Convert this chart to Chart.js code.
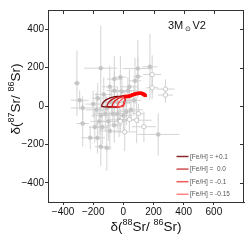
<!DOCTYPE html>
<html><head><meta charset="utf-8">
<script src="https://cdn.jsdelivr.net/npm/chart.js@4"></script>
<style>html,body{margin:0;padding:0;background:#fff}canvas{display:block}</style>
</head><body>
<canvas id="c" width="249" height="241"></canvas>
<script>
// ---- tick labels ----
const xTicks = [-400, -200, 0, 200, 400, 600];
const yTicks = [-400, -200, 0, 200, 400];

// ---- grey measurements (filled) ----
const filledX    = [-308,-150,176,96,77,96,231,-290,-270,-270,-220,-172,-150,-110,-29,-60,-10,-80,-120,-150,-180,-100,-60,-40,20,50,70,-200,-130,-90,40,-20,-60,30,-170,-140,-90,-40,10,-160,-110,-70,0,-190];
const filledY    = [119,197,204,195,131,154,-148,30,-10,-91,-166,-166,-212,-218,-72,80,75,20,-40,-50,-20,-80,-100,-40,-30,-20,30,10,60,100,100,150,140,80,40,-110,-130,20,20,-80,-10,-40,-50,-110];
const filledXErr = [20,110,50,100,40,30,140,60,80,40,60,50,40,30,60,50,70,60,80,60,70,60,50,70,60,80,50,50,60,50,60,40,50,60,40,50,60,60,50,60,70,50,60,40];
const filledYErr = [170,220,170,150,120,100,110,50,60,120,60,80,100,120,90,100,80,70,90,80,90,100,90,80,70,60,80,70,90,110,90,110,120,70,80,90,100,80,60,70,60,70,80,80];

// ---- grey measurements (open) ----
const openX    = [191,191,279,279,9,88,136,40,100,-20];
const openY    = [164,95,88,57,-135,-74,-108,-70,-40,-80];
const openXErr = [60,40,60,50,80,100,80,50,40,40];
const openYErr = [100,60,50,40,100,120,80,60,50,60];

// ---- model loops, one per metallicity ----
const loopP01 = [[-145,-3],[-140,10],[-130,22],[-115,32],[-95,40],[-70,46],[-40,50],[-10,52],[15,53],[10,35],[5,15],[-5,0],[-30,-4],[-70,-5],[-110,-5],[-145,-3]];
const loopP00 = [[-110,-3],[-104,10],[-94,22],[-80,32],[-62,40],[-40,46],[-15,50],[15,53],[10,35],[5,15],[-5,0],[-30,-4],[-70,-5],[-110,-3]];
const loopM01 = [[-75,-3],[-70,10],[-61,22],[-48,32],[-32,40],[-12,46],[15,53],[10,35],[5,15],[-5,0],[-30,-4],[-75,-3]];
const loopM015 = [[-40,-3],[-35,10],[-27,22],[-15,32],[0,42],[15,53],[10,35],[5,15],[0,-1],[-20,-3],[-40,-3]];
// ---- thick model track ----
const trackX = [15,30,45,60,75,90,105,118,130,138,145];
const trackY = [50,50,53,58,62,65,66,66,63,59,55];

const legendLabels = ['[Fe/H] = +0.1', '[Fe/H] =  0.0', '[Fe/H] = -0.1', '[Fe/H] = -0.15'];
const loopColors = ['#7a0a0a', '#b81414', '#e01e1e', '#ff4a4a'];
const legendColors = ['#8a2a2a', '#d05050', '#ea5a5a', '#ff8080'];

function pts(a){ return a.map(p => ({x:p[0], y:p[1]})); }
function hBars(X,Y,E){ const o=[]; X.forEach((x,i)=>{o.push({x:x-E[i],y:Y[i]},{x:x+E[i],y:Y[i]},{x:x,y:null});}); return o; }
function vBars(X,Y,E){ const o=[]; X.forEach((x,i)=>{o.push({x:x,y:Y[i]-E[i]},{x:x,y:Y[i]+E[i]},{x:x,y:null});}); return o; }

const errStyle = {showLine:true, spanGaps:false, pointRadius:0, borderColor:'rgba(205,205,205,0.85)', borderWidth:1, order:9};

const datasets = [
  Object.assign({data: hBars(filledX,filledY,filledXErr)}, errStyle),
  Object.assign({data: vBars(filledX,filledY,filledYErr)}, errStyle),
  Object.assign({data: hBars(openX,openY,openXErr)}, errStyle),
  Object.assign({data: vBars(openX,openY,openYErr)}, errStyle),
  {data: filledX.map((x,i)=>({x:x,y:filledY[i]})), pointRadius:2, pointBackgroundColor:'#c4c4c4', pointBorderColor:'#c4c4c4', pointBorderWidth:0.5, order:7},
  {data: openX.map((x,i)=>({x:x,y:openY[i]})), pointRadius:2.2, pointBackgroundColor:'#ffffff', pointBorderColor:'#bdbdbd', pointBorderWidth:0.8, order:6},
  {data: pts(loopP01), showLine:true, pointRadius:0, borderColor:loopColors[0], borderWidth:1.3, tension:0.3, order:5},
  {data: pts(loopP00), showLine:true, pointRadius:0, borderColor:loopColors[1], borderWidth:1.3, tension:0.3, order:4},
  {data: pts(loopM01), showLine:true, pointRadius:0, borderColor:loopColors[2], borderWidth:1.3, tension:0.3, order:3},
  {data: pts(loopM015), showLine:true, pointRadius:0, borderColor:loopColors[3], borderWidth:1.3, tension:0.3, order:2},
  {data: trackX.map((x,i)=>({x:x,y:trackY[i]})), showLine:true, borderColor:'#ff0000', borderWidth:3.5, tension:0.3, pointStyle:'rect', pointRadius:2.3, pointBackgroundColor:'#ff0000', pointBorderColor:'#ff0000', pointBorderWidth:0, order:1}
];

function drawSup(ctx, parts, x, y, size, align){
  const big = size + 'px "Liberation Sans", Arial, sans-serif';
  const small = Math.round(size*0.68) + 'px "Liberation Sans", Arial, sans-serif';
  let w = 0;
  parts.forEach(p => { ctx.font = p.sup ? small : big; w += ctx.measureText(p.t).width; });
  let cx = align === 'center' ? x - w/2 : x;
  ctx.textAlign = 'left'; ctx.textBaseline = 'alphabetic';
  parts.forEach(p => {
    ctx.font = p.sup ? small : big;
    ctx.fillText(p.t, cx, p.sup ? y - size*0.42 : y);
    cx += ctx.measureText(p.t).width;
  });
}

const decor = {
  id: 'decor',
  afterDraw(chart){
    const ctx = chart.ctx, a = chart.chartArea, xs = chart.scales.x, ys = chart.scales.y;
    ctx.save();
    ctx.strokeStyle = '#333'; ctx.lineWidth = 1;
    ctx.beginPath();
    ctx.moveTo(a.left, a.top + 0.5); ctx.lineTo(a.right, a.top + 0.5);
    ctx.moveTo(a.right - 0.5, a.top); ctx.lineTo(a.right - 0.5, a.bottom);
    xTicks.forEach(v => { const p = Math.round(xs.getPixelForValue(v)) + 0.5; ctx.moveTo(p, a.top); ctx.lineTo(p, a.top + 4); });
    yTicks.forEach(v => { const p = Math.round(ys.getPixelForValue(v)) + 0.5; ctx.moveTo(a.right, p); ctx.lineTo(a.right - 4, p); });
    ctx.stroke();

    ctx.fillStyle = '#111';
    // axis titles
    drawSup(ctx, [{t:'δ('},{t:'88',sup:1},{t:'Sr/ '},{t:'86',sup:1},{t:'Sr)'}], (a.left + a.right)/2, 231, 13.5, 'center');
    ctx.save();
    ctx.translate(19.5, 99); ctx.rotate(-Math.PI/2);
    drawSup(ctx, [{t:'δ('},{t:'87',sup:1},{t:'Sr/ '},{t:'86',sup:1},{t:'Sr)'}], 0, 0, 13.5, 'center');
    ctx.restore();

    // label 3M⊙ V2
    ctx.font = '11px "Liberation Sans", Arial, sans-serif';
    ctx.textAlign = 'left'; ctx.textBaseline = 'alphabetic';
    ctx.fillText('3M', 168, 28.5);
    ctx.font = '7px "DejaVu Sans", sans-serif';
    ctx.fillText('⊙', 185, 31);
    ctx.font = '11px "Liberation Sans", Arial, sans-serif';
    ctx.fillText('V2', 192.5, 28.5);

    // legend
    legendLabels.forEach((lab, i) => {
      const y = 156.5 + i*12.6;
      ctx.strokeStyle = legendColors[i]; ctx.lineWidth = 1.5;
      ctx.beginPath(); ctx.moveTo(176.5, y); ctx.lineTo(188.5, y); ctx.stroke();
      ctx.fillStyle = '#555';
      ctx.font = '6.5px "Liberation Sans", Arial, sans-serif';
      ctx.textBaseline = 'middle';
      ctx.fillText(lab, 190, y + 0.3);
    });
    ctx.restore();
  }
};

const tickFont = {family:'"Liberation Sans", Arial, sans-serif', size:10};
const fmt = v => String(v).replace('-', '\u2212');

new Chart(document.getElementById('c'), {
  type: 'scatter',
  data: {datasets},
  plugins: [decor],
  options: {
    responsive:false, animation:false, devicePixelRatio:1,
    layout:{padding:{left:0, right:5, top:10, bottom:0}},
    plugins:{legend:{display:false}, tooltip:{enabled:false}},
    scales:{
      x:{min:-500, max:800,
         afterBuildTicks: s => { s.ticks = xTicks.map(v => ({value:v})); },
         afterFit: s => { s.height = 39; },
         ticks:{font:tickFont, color:'#111', padding:1, maxRotation:0, autoSkip:false, callback: fmt},
         grid:{drawOnChartArea:false, drawTicks:true, tickLength:3, color:'#333'},
         border:{color:'#333', width:1}},
      y:{min:-500, max:500,
         afterBuildTicks: s => { s.ticks = yTicks.map(v => ({value:v})); },
         afterFit: s => { s.width = 48; },
         ticks:{font:tickFont, color:'#111', padding:1, autoSkip:false, callback: fmt},
         grid:{drawOnChartArea:false, drawTicks:true, tickLength:3, color:'#333'},
         border:{color:'#333', width:1}}
    }
  }
});
</script>
</body></html>
